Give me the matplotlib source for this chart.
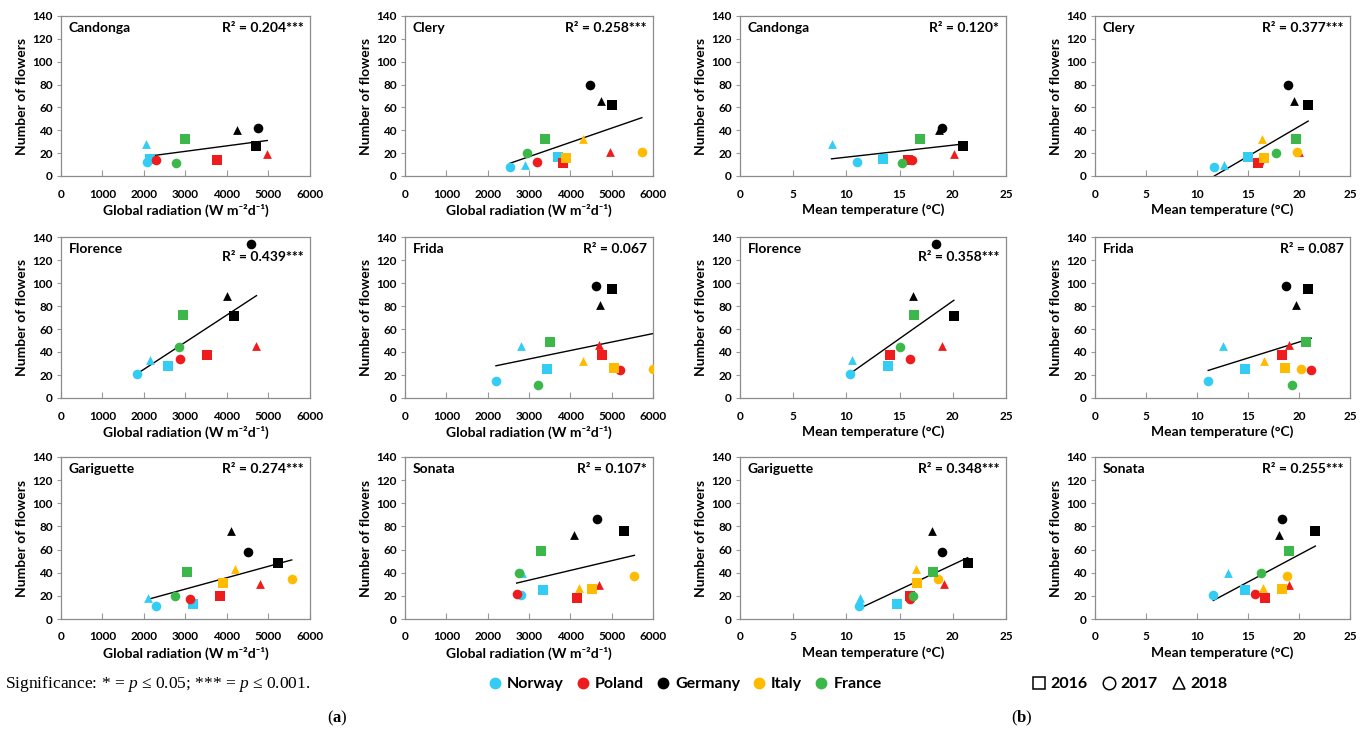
import numpy as np
import matplotlib
matplotlib.use("Agg")
import matplotlib.pyplot as plt
from matplotlib.lines import Line2D

plt.rcParams['font.family'] = ['Lato', 'DejaVu Sans']
plt.rcParams['mathtext.fontset'] = 'custom'
plt.rcParams['mathtext.rm'] = 'Liberation Serif:weight=normal'
plt.rcParams['mathtext.it'] = 'Liberation Serif:style=italic:weight=normal'
plt.rcParams['mathtext.bf'] = 'Liberation Serif:weight=bold'

nan = np.nan

# point order: Norway 16,17,18 / Poland 16,17,18 / Germany 16,17,18 / Italy 16,17,18 / France 16,17,18
countries = ['Norway', 'Poland', 'Germany', 'Italy', 'France']
country_colors = ['#33ccf5', '#ee1c1c', '#000000', '#ffbb00', '#3cb84a']
years = ['2016', '2017', '2018']
year_markers = ['s', 'o', '^']

cultivars = ['Candonga', 'Clery', 'Florence', 'Frida', 'Gariguette', 'Sonata']

candonga_flowers = [15, 12, 28, 14, 14, 19, 26, 42, 40, nan, nan, nan, 32, 11, nan]
candonga_rad = [2150, 2080, 2050, 3750, 2300, 4970, 4700, 4750, 4250, nan, nan, nan, 3000, 2780, nan]
candonga_temp = [13.4, 11.0, 8.6, 15.8, 16.2, 20.1, 21.0, 19.0, 18.7, nan, nan, nan, 16.9, 15.2, nan]

clery_flowers = [17, 8, 10, 11, 12, 21, 62, 80, 66, 16, 21, 32, 32, 20, nan]
clery_rad = [3700, 2530, 2900, 3820, 3200, 4970, 5020, 4480, 4730, 3900, 5730, 4300, 3380, 2950, nan]
clery_temp = [15.0, 11.7, 12.6, 16.0, 16.1, 20.0, 20.9, 18.9, 19.5, 16.6, 19.8, 16.4, 19.7, 17.7, nan]

florence_flowers = [28, 21, 33, 37, 34, 45, 71, 134, 89, nan, nan, nan, 72, 44, nan]
florence_rad = [2580, 1830, 2150, 3530, 2870, 4710, 4170, 4580, 4000, nan, nan, nan, 2950, 2850, nan]
florence_temp = [13.9, 10.3, 10.5, 14.1, 16.0, 19.0, 20.1, 18.4, 16.3, nan, nan, nan, 16.4, 15.0, nan]

frida_flowers = [25, 15, 45, 37, 24, 46, 95, 97, 81, 26, 25, 32, 49, 11, nan]
frida_rad = [3430, 2200, 2800, 4760, 5200, 4700, 5000, 4620, 4720, 5060, 6000, 4300, 3520, 3220, nan]
frida_temp = [14.7, 11.1, 12.5, 18.3, 21.2, 19.0, 20.9, 18.7, 19.7, 18.6, 20.2, 16.6, 20.7, 19.3, nan]

gariguette_flowers = [13, 11, 18, 20, 17, 30, 48, 58, 76, 31, 35, 43, 41, 20, nan]
gariguette_rad = [3170, 2280, 2100, 3820, 3100, 4800, 5230, 4500, 4100, 3900, 5560, 4200, 3030, 2740, nan]
gariguette_temp = [14.8, 11.2, 11.3, 16.0, 16.0, 19.2, 21.4, 19.0, 18.0, 16.6, 18.6, 16.5, 18.1, 16.3, nan]

sonata_flowers = [25, 21, 40, 18, 22, 29, 76, 86, 73, 26, 37, 27, 59, 40, nan]
sonata_rad = [3330, 2800, 2820, 4150, 2700, 4700, 5300, 4650, 4100, 4520, 5550, 4200, 3280, 2750, nan]
sonata_temp = [14.7, 11.6, 13.0, 16.7, 15.7, 19.0, 21.6, 18.3, 18.0, 18.3, 18.8, 16.5, 19.0, 16.3, nan]

flowers = [candonga_flowers, clery_flowers, florence_flowers, frida_flowers, gariguette_flowers, sonata_flowers]
rad = [candonga_rad, clery_rad, florence_rad, frida_rad, gariguette_rad, sonata_rad]
temp = [candonga_temp, clery_temp, florence_temp, frida_temp, gariguette_temp, sonata_temp]

# regression lines (slope, intercept)
rad_slope = [0.0048, 0.0125, 0.02361, 0.00737, 0.00983, 0.00842]
rad_icpt = [7.2, -20.6, -22.2, 11.8, -3.6, 8.3]
temp_slope = [1.048, 5.217, 6.53, 2.772, 4.314, 4.7]
temp_icpt = [6.0, -61.0, -46.3, -6.8, -39.3, -38.5]

rad_r2 = ['0.204***', '0.258***', '0.439***', '0.067', '0.274***', '0.107*']
temp_r2 = ['0.120*', '0.377***', '0.358***', '0.087', '0.348***', '0.255***']

W, H = 1366, 734
fig = plt.figure(figsize=(W / 100, H / 100), dpi=100)

col_left = [61, 405, 740, 1095]
col_width = [249, 248, 266, 255]
row_top = [16, 237, 457]
row_bot = [176, 398, 619]

rad_label = 'Global radiation (W m\u207b\u00b2d\u207b\u00b9)'
temp_label = 'Mean temperature (\u00b0C)'


def draw_panel(ax, xs, ys, slope, icpt, name, r2, xmax, xstep, xlabel, r2_y):
    xs = np.array(xs, dtype=float)
    ys = np.array(ys, dtype=float)
    for i in range(len(xs)):
        if np.isnan(xs[i]):
            continue
        c = country_colors[i // 3]
        m = year_markers[i % 3]
        size = 44 if m == 's' else (48 if m == 'o' else 40)
        ax.scatter(xs[i], ys[i], marker=m, s=size, color=c, zorder=3, linewidths=0)
    x0, x1 = np.nanmin(xs), np.nanmax(xs)
    lx = np.array([x0, x1])
    ax.plot(lx, slope * lx + icpt, color='black', lw=1, zorder=2)
    ax.set_xlim(0, xmax)
    ax.set_ylim(0, 140)
    ax.set_xticks(np.arange(0, xmax + 1, xstep))
    ax.set_yticks(np.arange(0, 141, 20))
    ax.tick_params(axis='x', direction='in', length=4, pad=9, labelsize=8.5, color='#999999')
    ax.tick_params(axis='y', direction='out', length=3, pad=3, labelsize=8.5, color='#999999')
    for lab in ax.get_xticklabels() + ax.get_yticklabels():
        lab.set_fontweight('bold')
    for s in ax.spines.values():
        s.set_color('#8c8c8c')
        s.set_linewidth(0.9)
    ax.set_xlabel(xlabel, fontsize=10, fontweight='bold', labelpad=3)
    ax.set_ylabel('Number of flowers', fontsize=10, fontweight='bold', labelpad=3)
    ax.text(0.03, 0.925, name, transform=ax.transAxes, fontsize=10, fontweight='bold',
            ha='left', va='center')
    ax.text(0.975, r2_y, 'R\u00b2 = ' + r2, transform=ax.transAxes, fontsize=10,
            fontweight='bold', ha='right', va='center')


for k, cv in enumerate(cultivars):
    r = k // 2
    c = k % 2
    for part in range(2):
        col = c + 2 * part
        rect = [col_left[col] / W, 1 - row_bot[r] / H, col_width[col] / W, (row_bot[r] - row_top[r]) / H]
        ax = fig.add_axes(rect)
        r2_y = 0.875 if cv == 'Florence' else 0.925
        if part == 0:
            draw_panel(ax, rad[k], flowers[k], rad_slope[k], rad_icpt[k], cv, rad_r2[k],
                       6000, 1000, rad_label, r2_y)
        else:
            draw_panel(ax, temp[k], flowers[k], temp_slope[k], temp_icpt[k], cv, temp_r2[k],
                       25, 5, temp_label, r2_y)

# significance note
fig.text(5 / W, 1 - 684 / H, r'Significance: * = $\mathit{p}$ ≤ 0.05; *** = $\mathit{p}$ ≤ 0.001.',
         fontsize=12.5, family='Liberation Serif', fontweight='normal', ha='left', va='center')

# country legend
c_handles = [Line2D([], [], marker='o', ls='', color=country_colors[i], markersize=7.5)
             for i in range(len(countries))]
leg1 = fig.legend(c_handles, countries, loc='center', bbox_to_anchor=(685 / W, 1 - 684 / H),
                  ncol=5, frameon=False, fontsize=11.5, handlelength=0.8, handletextpad=0.35,
                  columnspacing=0.8, borderaxespad=0, borderpad=0)
for t in leg1.get_texts():
    t.set_fontweight('bold')

# year legend
y_handles = [Line2D([], [], marker=year_markers[i], ls='', markerfacecolor='none',
                    markeredgecolor='black', markeredgewidth=1.1, markersize=9)
             for i in range(len(years))]
leg2 = fig.legend(y_handles, years, loc='center', bbox_to_anchor=(1130 / W, 1 - 684 / H),
                  ncol=3, frameon=False, fontsize=11.5, handlelength=0.8, handletextpad=0.35,
                  columnspacing=0.9, borderaxespad=0, borderpad=0)
for t in leg2.get_texts():
    t.set_fontweight('bold')

fig.text(337 / W, 1 - 718 / H, r'($\mathbf{a}$)', fontsize=12, family='Liberation Serif',
         fontweight='normal', ha='center', va='center')
fig.text(1022 / W, 1 - 718 / H, r'($\mathbf{b}$)', fontsize=12, family='Liberation Serif',
         fontweight='normal', ha='center', va='center')

fig.savefig('out.png', dpi=100)
